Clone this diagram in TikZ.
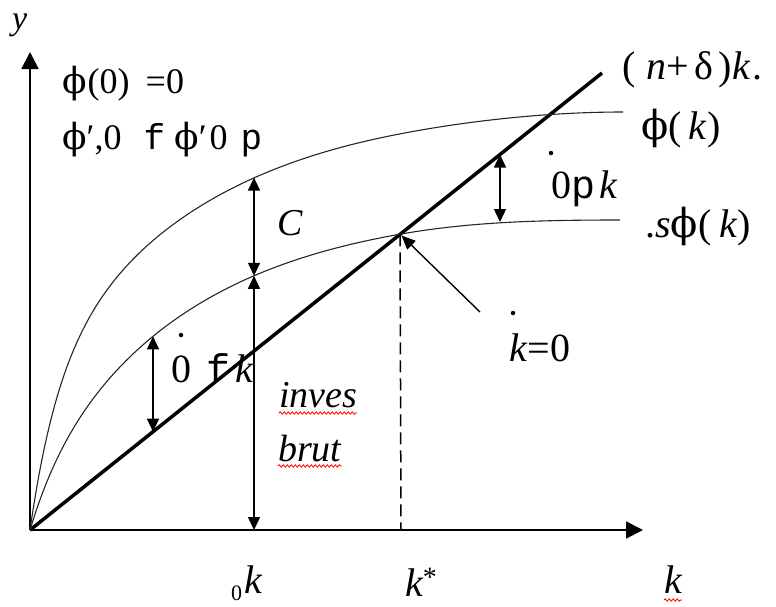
\documentclass[tikz,border=0pt]{standalone}
\usepackage{fontspec}
\setmainfont{Liberation Serif}
\newfontfamily\monof{Liberation Mono}
\newfontfamily\phf{DejaVu Serif}
\usetikzlibrary{arrows.meta,decorations.pathmorphing}
\newcommand{\ph}{{\phf ϕ}}
\begin{document}
\begin{tikzpicture}[x=1pt,y=-1pt,
  thincurve/.style={line width=1.1pt, black!85},
  axisline/.style={line width=1.8pt, -{Triangle[length=17pt,width=17pt]}},
  dimarrow/.style={line width=1.4pt, {Triangle[length=13pt,width=12pt]}-{Triangle[length=13pt,width=12pt]}},
  lbl/.style={anchor=base west, inner sep=0pt, font=\fontsize{40}{46}\selectfont},
  toplbl/.style={anchor=base west, inner sep=0pt, font=\fontsize{36}{42}\selectfont},
  biglbl/.style={anchor=base west, inner sep=0pt, font=\fontsize{38}{44}\selectfont\itshape},
  wavy/.style={red, line width=0.8pt, decorate, decoration={snake, amplitude=1.2pt, segment length=4pt}},
  dotmark/.style={circle, fill=black, inner sep=0pt, minimum size=4.5pt}]
\useasboundingbox (0,0) rectangle (776,606);
% axes
\coordinate (O) at (30,530);
\coordinate (ytip) at (30,52);
\coordinate (xtip) at (643,530);
\draw[axisline] (O) -- (ytip);
\draw[axisline] (O) -- (xtip);
% thick line (n+delta)k
\coordinate (Lend) at (602,73);
\draw[line width=3.5pt] (O) -- (Lend);
% curves phi(k) and s phi(k)
\draw[thincurve] plot[domain=0:310, samples=120, smooth]
  ({30+\x}, {530-(150*(1-exp(-(\x)/28))+280*(1-exp(-(\x)/175)))})
  .. controls (410,128.6) and (520,112) .. (623,112);
\draw[thincurve] plot[domain=0:370, samples=120, smooth]
  ({30+\x}, {530-(50*(1-exp(-(\x)/30))+275*(1-exp(-(\x)/165)))})
  .. controls (470,221.8) and (540,220) .. (620,220);
% steady state
\coordinate (kstar) at (400,234.3);
\coordinate (kstarx) at (401,530);
\draw[line width=1.5pt, dash pattern=on 12pt off 6pt] (kstar) -- (kstarx);
% dimension arrows
\coordinate (phi0) at (254,177.6);
\coordinate (sphi0) at (254,275.8);
\coordinate (ax0) at (254,530);
\draw[dimarrow] (phi0) -- (sphi0);
\draw[dimarrow] (sphi0) -- (ax0);
\coordinate (La) at (153,336.3);
\coordinate (Lb) at (153,431.7);
\draw[dimarrow] (La) -- (Lb);
\coordinate (Ra) at (500,154.5);
\coordinate (Rb) at (500,222);
\draw[dimarrow] (Ra) -- (Rb);
% pointer
\coordinate (ptail) at (480,312);
\coordinate (ptip) at (401.5,235.5);
\draw[line width=1.4pt, -{Triangle[length=14pt,width=12pt]}] (ptail) -- (ptip);
% labels
\node[biglbl, font=\fontsize{34}{40}\selectfont\itshape] (ylab) at (12,29) {y};
\node[toplbl] (t1) at (62,93) {\ph\hspace{1pt}(0)\hspace{16pt}=0};
\node[toplbl] (t2) at (62,149) {\ph′,0\hspace{22pt}{\monof f}\hspace{9pt}\ph′\hspace{3pt}0\hspace{13pt}{\monof p}};
\node[lbl] (nd) at (622,79) {(\hspace{11pt}\textit{n}+\hspace{5pt}δ\hspace{6pt})\textit{k}\hspace{2pt}.};
\node[lbl] (phk) at (641,139) {\ph(\hspace{7pt}\textit{k})};
\node[lbl] (sphk) at (645,237) {.\textit{s}\ph(\hspace{8pt}\textit{k})};
\node[dotmark] (d1) at (551,153) {};
\node[lbl] (r1) at (551,198) {0{\monof p}\hspace{4pt}\textit{k}};
\node[biglbl] (C) at (277,235) {C};
\node[dotmark] (d2) at (181,335) {};
\node[lbl] (l1) at (171,382) {0\hspace{15pt}{\monof f}\hspace{5pt}\textit{k}};
\node[dotmark] (d3) at (513,313) {};
\node[lbl] (k0) at (509,361) {\textit{k}=0};
\node[biglbl] (inves) at (279,407) {inves};
\node[biglbl] (brut) at (278,461) {brut};
\draw[wavy] ([yshift=-6pt]inves.base west) -- ([yshift=-6pt]inves.base east);
\draw[wavy] ([yshift=-5pt]brut.base west) -- ([yshift=-5pt]brut.base east);
\node[anchor=base west, inner sep=0pt, font=\fontsize{22}{24}\selectfont] (sub0) at (231,600) {0};
\node[lbl, font=\fontsize{40}{46}\selectfont\itshape] (k0lab) at (244,593) {k};
\node[lbl, font=\fontsize{40}{46}\selectfont\itshape] (kst) at (405,596) {k\textsuperscript{\upshape *}};
\node[lbl, font=\fontsize{40}{46}\selectfont\itshape] (klab) at (664,593) {k};
\draw[wavy] ([yshift=-7pt]klab.base west) -- ([yshift=-7pt]klab.base east);
\end{tikzpicture}
\end{document}
